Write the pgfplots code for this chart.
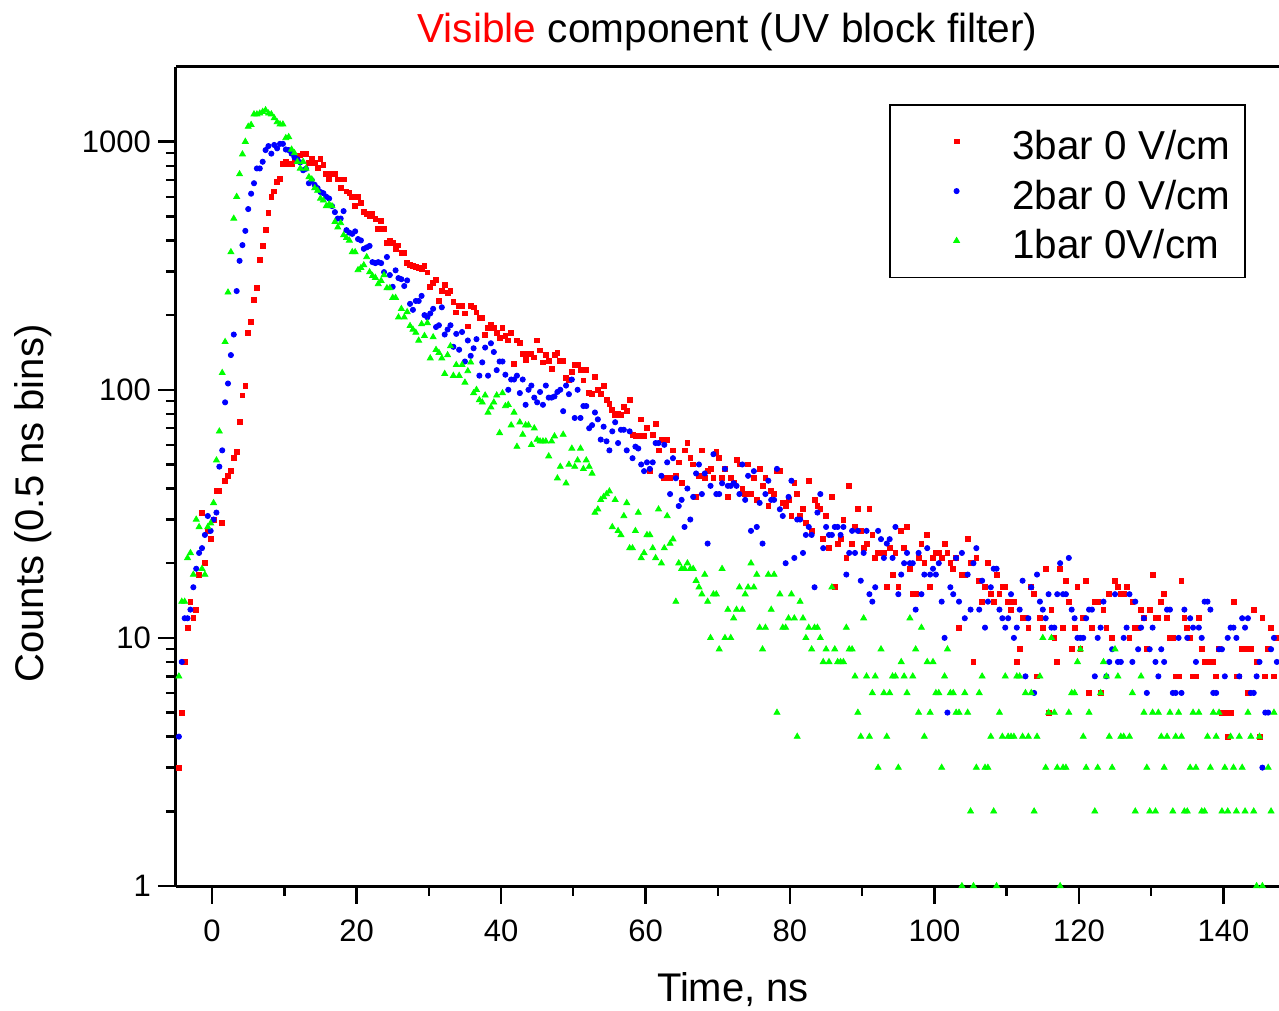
\documentclass[border=0pt]{standalone}
\usepackage{pgfplots}
\pgfplotsset{compat=1.18}
\usepackage{pgfplotstable}
\usepackage{fontspec}
\setmainfont{Liberation Sans}
\begin{document}
% columns: red (3bar), blue (2bar), green (1bar); bins of 0.4 ns starting at -4.6 ns
\pgfplotstableread{
r b g
3 4 7
5 8 14
8 12 14
11 12 21
14 13 22
12 16 18
13 19 30
18 22 28
32 23 19
20 26 18
27 31 28
25 27 29
30 30 35
39 32 52
39 49 68
29 57 117
43 89 156
45 106 247
47 138 359
53 167 490
56 250 600
74 331 740
95 383 890
104 437 1000
170 535 1150
188 617 1170
230 680 1290
257 780 1290
333 780 1300
380 830 1320
440 925 1340
515 960 1300
600 895 1290
630 970 1245
690 940 1200
710 980 1175
815 980 1175
826 930 1035
810 925 1045
815 895 930
840 865 900
860 850 830
880 825 780
890 767 830
890 778 780
820 680 720
850 700 705
820 670 650
782 650 635
850 627 590
805 620 580
740 600 550
710 590 560
745 550 550
740 520 475
705 490 452
650 490 470
705 525 420
630 440 410
620 430 400
600 425 359
550 435 359
600 405 304
565 400 310
520 370 318
510 375 343
500 380 298
510 327 288
490 324 283
445 327 267
480 324 275
445 298 290
390 343 257
400 290 257
390 260 235
370 303 235
382 282 196
355 279 212
355 262 196
325 276 206
318 222 181
315 210 175
312 228 170
310 228 158
308 239 184
315 200 165
297 196 186
260 203 134
270 212 163
277 179 145
228 182 141
250 215 134
265 167 116
245 175 138
250 182 150
226 149 114
205 168 126
218 145 114
218 171 126
203 130 107
180 158 119
218 137 129
215 147 97
205 160 100
195 114 91
195 129 89
166 148 95
178 114 81
182 154 85
177 142 89
170 120 95
162 130 67
178 130 97
165 115 86
158 100 87
169 110 72
127 110 81
158 114 59
154 97 74
139 110 66
132 87 72
139 100 72
139 104 60
135 93 70
158 89 63
144 98 62
129 87 62
138 104 62
131 93 54
121 93 62
138 94 65
141 98 44
131 100 49
131 82 66
112 104 42
110 96 50
118 110 58
126 77 49
126 100 52
120 77 58
109 86 48
120 86 52
97 70 49
96 72 46
113 81 32
100 76 33
96 63 36
104 71 37
91 62 38
88 57 39
83 68 28
79 74 36
80 61 27
79 69 26
85 69 31
82 57 35
91 68 23
66 53 23
65 59 27
65 58 32
76 50 21
65 47 22
70 51 26
47 48 26
66 51 23
73 61 21
57 61 33
63 45 20
44 60 23
63 51 31
44 38 24
57 53 25
45 44 14
51 34 20
42 36 19
57 28 19
61 40 20
53 30 19
50 37 19
37 46 17
45 50 16
57 38 15
44 46 18
47 24 14
48 41 10
44 55 15
56 38 15
53 38 9
44 42 19
48 48 10
37 41 13
44 41 10
42 42 12
52 41 13
50 38 16
40 50 13
38 36 15
50 45 16
38 27 20
44 47 16
36 28 18
48 35 11
41 24 9
44 38 11
34 43 18
39 36 13
38 36 18
47 48 5
47 33 15
35 31 11
34 20 11
36 37 12
31 43 15
42 21 12
38 30 4
31 30 14
33 22 12
29 26 10
43 28 11
27 26 9
36 16 11
34 32 11
33 38 10
25 23 8
31 28 9
23 26 8
37 26 16
16 28 9
24 28 8
25 26 8
30 28 8
21 18 11
41 22 9
24 27 9
28 22 7
33 27 5
27 17 4
23 22 12
24 27 7
33 15 4
26 14 6
21 16 7
22 27 3
22 25 9
22 21 6
16 24 4
23 25 6
18 21 7
22 28 7
16 15 3
27 18 8
23 20 7
28 22 6
19 20 12
15 20 7
15 13 9
21 22 5
24 15 11
20 18 4
26 23 8
16 18 5
21 19 8
22 18 6
22 20 6
21 14 3
24 10 7
22 5 9
20 16 6
19 15 6
21 21 5
11 14 5
18 22 1
18 12 6
25 18 5
20 13 2
8 20 1
21 23 3
17 13 6
14 17 7
16 11 3
20 14 3
15 16 4
14 19 2
18 19 1
15 13 5
16 12 4
16 11 7
14 12 4
13 15 4
14 10 4
8 11 7
9 13 7
12 17 4
12 7 6
11 12 4
16 16 6
15 6 2
7 18 4
12 14 7
11 13 10
19 12 3
5 15 5
13 11 10
10 11 5
8 15 3
19 20 1
11 15 3
17 15 3
14 21 5
9 13 6
11 12 6
16 10 8
9 10 9
12 10 4
17 12 3
6 13 5
11 13 nan
14 7 2
14 10 3
6 11 6
13 14 8
11 7 7
15 8 4
10 9 3
17 15 9
16 8 7
15 8 4
15 10 4
16 11 nan
10 15 4
14 8 6
11 14 2
11 9 nan
13 11 7
12 12 5
9 6 3
13 9 2
18 11 5
12 8 2
12 7 5
14 9 4
15 8 3
12 13 4
10 13 5
10 6 2
7 6 4
7 10 5
17 6 4
12 13 2
11 10 2
10 12 3
7 11 5
7 8 3
12 11 5
9 10 2
8 14 2
8 14 4
8 13 3
8 6 5
7 6 4
9 9 5
5 9 2
5 7 3
4 10 2
5 11 4
14 11 3
7 10 2
7 7 4
9 12 3
9 11 2
6 12 5
9 6 4
13 6 2
8 7 1
4 8 4
12 3 1
7 5 nan
9 5 3
11 9 2
7 10 5
10 8 nan
8 5 nan
}\datatable
\begin{tikzpicture}
\begin{axis}[
  scale only axis,
  width=551.5pt, height=409.5pt,
  xmin=-5, xmax=147.7,
  ymode=log, ymin=1, ymax=2000,
  axis x line*=bottom, axis y line*=left,
  axis line style={line width=1.5pt},
  tick align=outside,
  xtick={0,20,...,140},
  minor x tick num=1,
  ytick={1,10,100,1000},
  yticklabels={1,10,100,1000},
  major tick length=9pt, minor tick length=5pt,
  every tick/.style={black, line width=1.2pt},
  /pgf/number format/assume math mode=true,
  tick label style={font=\fontsize{15.5}{18}\selectfont},
  xticklabel style={yshift=-4.5pt},
  every axis title/.style={at={(0.5,1)}, anchor=center, yshift=17.5pt, font=\fontsize{20.3}{24}\selectfont},
  title={\textcolor{red}{Visible} component (UV block filter)},
  every axis x label/.style={at={(0.5,0)}, xshift=2.75pt, yshift=-52pt, anchor=center, font=\fontsize{20}{24}\selectfont},
  every axis y label/.style={at={(0,0.5)}, xshift=-71.5pt, yshift=-13.5pt, rotate=90, anchor=center, font=\fontsize{20}{24}\selectfont},
  xlabel={Time, ns},
  ylabel={Counts (0.5 ns bins)},
  legend style={at={(1,1)}, anchor=north east, xshift=-16.5pt, yshift=-18.5pt,
    draw=black, line width=0.8pt, fill=white,
    font=\fontsize{20.2}{24}\selectfont, inner xsep=5.5pt, inner ysep=5.5pt,
    nodes={text height=19.8pt, text depth=1.8pt},
    row sep=-0.75pt},
  legend cell align=left,
  legend image code/.code={\path (0pt,0pt) (53pt,0pt); \draw plot coordinates {(27.5pt,0pt)};},
]
\addplot[red, only marks, mark=square*, mark size=1.2pt, mark options={line width=0.4pt}]
  table[x expr=\coordindex*0.4-4.6, y=r] {\datatable};
\addlegendentry{3bar 0 V/cm}
\addplot[blue, only marks, mark=*, mark size=1.3pt, mark options={line width=0.4pt}]
  table[x expr=\coordindex*0.4-4.6, y=b] {\datatable};
\addlegendentry{2bar 0 V/cm}
\addplot[green, only marks, mark=triangle*, mark size=1.7pt, mark options={line width=0.4pt}]
  table[x expr=\coordindex*0.4-4.6, y=g] {\datatable};
\addlegendentry{1bar 0V/cm}
\coordinate (bl) at (rel axis cs:0,0);
\coordinate (tl) at (rel axis cs:0,1);
\coordinate (tr) at (rel axis cs:1,1);
\end{axis}
\draw[line width=1.5pt] (tl) -- (tr);
\pgfresetboundingbox
\path ([xshift=-88pt,yshift=-62.5pt]bl) rectangle ([yshift=33.5pt]tr);
\end{tikzpicture}
\end{document}
